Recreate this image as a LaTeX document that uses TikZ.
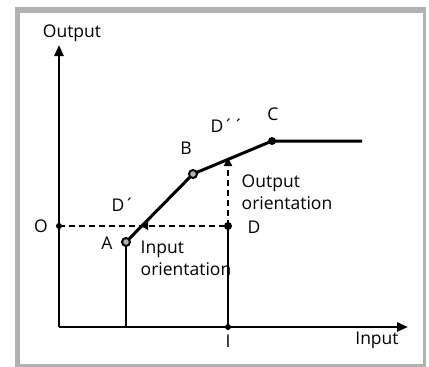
\documentclass[tikz,border=0pt]{standalone}
\usepackage{fontspec}
\setmainfont{Open Sans}
\usetikzlibrary{arrows.meta}
\begin{document}
\begin{tikzpicture}[x=1pt,y=-1pt,
  lbl/.style={inner sep=0pt,font=\fontsize{17.5}{22}\selectfont},
  ax/.style={line width=2.6pt,-{Triangle[length=11pt,width=9pt]}},
  solid line/.style={line width=2.6pt},
  front/.style={line width=3pt},
  ring/.style={circle,draw=black,fill=gray!60,line width=2pt,minimum size=8pt,inner sep=0pt},
  fdot/.style={circle,fill=black,minimum size=8pt,inner sep=0pt},
  sdot/.style={circle,fill=black,minimum size=6pt,inner sep=0pt},
  dsh/.style={line width=2.4pt,dash pattern=on 6pt off 4pt}]
\useasboundingbox (0,0) rectangle (429,367);
\fill[gray!60] (15,7) rectangle (426,367);
\fill[white] (20,13) rectangle (423,364);
% axes
\coordinate (orig) at (59,327);
\coordinate (ytop) at (59,45);
\coordinate (xend) at (408,327);
\draw[ax] (orig) -- (ytop);
\draw[ax] (orig) -- (xend);
\node[lbl] (out) at (72,33) {Output};
\node[lbl] (inp) at (377,340) {Input};
% points
\coordinate (A) at (126,242);
\coordinate (B) at (193,174);
\coordinate (C) at (272,141);
\coordinate (E) at (362,141);
\coordinate (D) at (228,226);
\coordinate (O) at (59,226);
\coordinate (I) at (228,327);
\coordinate (Abase) at (126,327);
\coordinate (Dp) at (141,226);
\coordinate (Dpp) at (228,157);
\draw[solid line] (Abase) -- (A);
\draw[solid line] (I) -- (D);
\draw[dsh] (O) -- (D);
\draw[dsh,-{Triangle[length=9pt,width=8pt]}] (D) -- (Dpp);
\fill (Dp) -- ++(7,-4) -- ++(0,8) -- cycle;
\draw[front] (A) -- (B) -- (C) -- (E);
\node[ring] (nA) at (A) {};
\node[ring] (nB) at (B) {};
\node[fdot] (nC) at (C) {};
\node[fdot] (nD) at (D) {};
\node[sdot] (nO) at (O) {};
\node[sdot] (nI) at (I) {};
% labels
\node[lbl] (lA) at (107,243) {A};
\node[lbl] (lB) at (186,148) {B};
\node[lbl] (lC) at (273,114) {C};
\node[lbl] (lD) at (254,227) {D};
\node[lbl] (lO) at (41,226) {O};
\node[lbl] (lI) at (228,341) {I};
\node[lbl] (lDp) at (123,205) {D\textasciiacute};
\node[lbl] (lDpp) at (227,126) {D\textasciiacute\textasciiacute};
\node[lbl,align=left] (oo) at (287,192) {Output\\orientation};
\node[lbl,align=left] (io) at (186,258) {Input\\orientation};
\end{tikzpicture}
\end{document}
